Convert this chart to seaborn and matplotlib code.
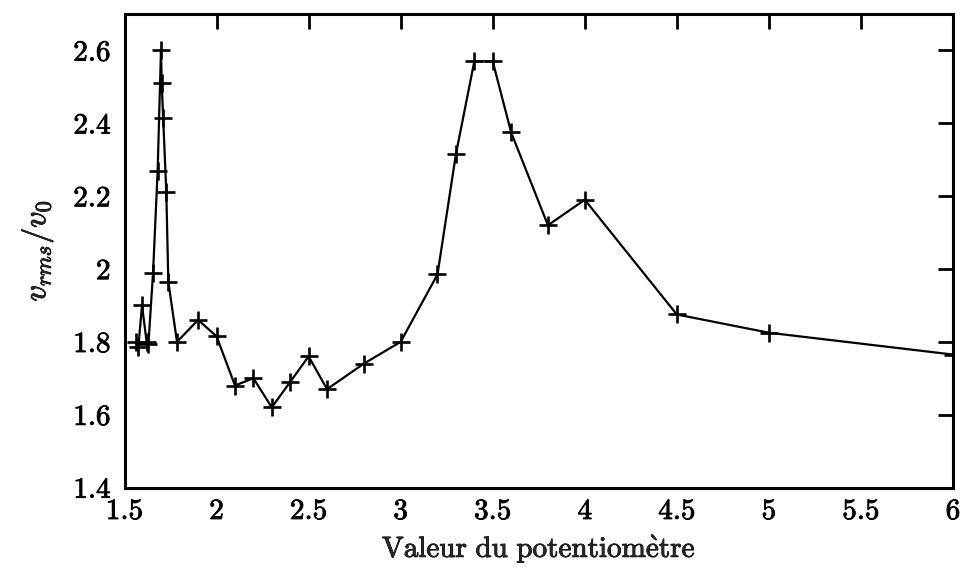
import matplotlib
matplotlib.use("Agg")
import matplotlib.pyplot as plt
import matplotlib.patheffects as pe
import seaborn as sns
import pandas as pd

# Potentiometer setting and normalised rms velocity
pot = [1.56, 1.575, 1.595, 1.62, 1.63, 1.655, 1.68, 1.698, 1.702, 1.71, 1.727,
       1.738, 1.785, 1.9, 2.0, 2.1, 2.2, 2.3, 2.4, 2.5, 2.6, 2.8, 3.0, 3.2,
       3.3, 3.4, 3.5, 3.6, 3.8, 4.0, 4.5, 5.0, 6.0]
vrms = [1.80, 1.785, 1.90, 1.80, 1.795, 1.99, 2.27, 2.60, 2.51, 2.415, 2.21,
        1.965, 1.80, 1.86, 1.815, 1.68, 1.70, 1.62, 1.69, 1.76, 1.67, 1.74,
        1.80, 1.985, 2.315, 2.57, 2.57, 2.375, 2.12, 2.19, 1.875, 1.825, 1.765]

xticks = [1.5, 2, 2.5, 3, 3.5, 4, 4.5, 5, 5.5, 6]
xticklabels = ["1.5", "2", "2.5", "3", "3.5", "4", "4.5", "5", "5.5", "6"]
yticks = [1.4, 1.6, 1.8, 2.0, 2.2, 2.4, 2.6]
yticklabels = ["1.4", "1.6", "1.8", "2", "2.2", "2.4", "2.6"]

sns.set_style("white")
plt.rcParams["font.family"] = ["cmr10", "DejaVu Serif"]
plt.rcParams["mathtext.fontset"] = "cm"
plt.rcParams["axes.formatter.use_mathtext"] = True

df = pd.DataFrame({"pot": pot, "vrms": vrms})

fig = plt.figure(figsize=(9.63, 5.67), dpi=100)
ax = fig.add_axes([0.1293, 0.1402, 0.8603, 0.8351])

sns.lineplot(data=df, x="pot", y="vrms", ax=ax, sort=False, estimator=None,
             color="black", linewidth=1.6, marker="+", markersize=13,
             markeredgewidth=1.9, markeredgecolor="black")

ax.set_xlim(1.5, 6)
ax.set_ylim(1.4, 2.7)
ax.set_xticks(xticks)
ax.set_xticklabels(xticklabels)
ax.set_yticks(yticks)
ax.set_yticklabels(yticklabels)

for s in ax.spines.values():
    s.set_linewidth(2.2)
    s.set_color("black")
    s.set_visible(True)

ax.tick_params(axis="both", which="major", direction="in", length=11,
               width=2.0, top=True, right=True, labelsize=21, colors="black")
ax.tick_params(axis="x", pad=8)
ax.tick_params(axis="y", pad=10)

ax.set_xlabel(r"$\mathrm{Valeur\ du\ potentiom\grave{e}tre}$", fontsize=21,
              labelpad=5)
ax.set_ylabel(r"$v_{rms}/v_0$", fontsize=23, labelpad=13)

# slightly heavier glyph strokes for all text
heavy = [pe.withStroke(linewidth=0.6, foreground="black")]
for t in ax.get_xticklabels() + ax.get_yticklabels():
    t.set_path_effects(heavy)
ax.xaxis.label.set_path_effects(heavy)
ax.yaxis.label.set_path_effects(heavy)

fig.savefig("out.png", dpi=100)
